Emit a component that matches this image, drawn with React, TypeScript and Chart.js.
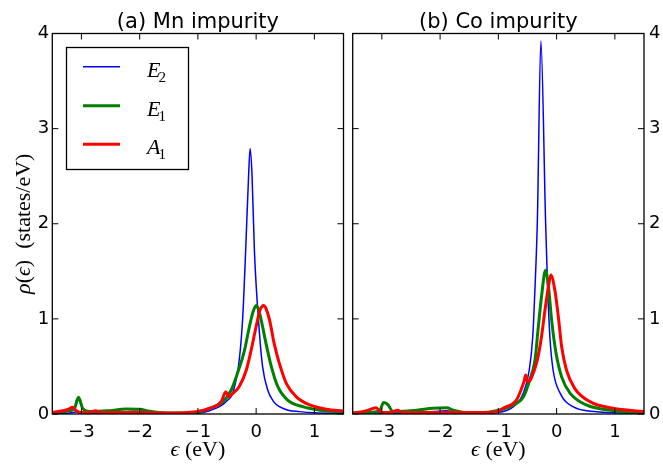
import React, { useEffect, useRef } from 'react';
import { Chart, registerables } from 'chart.js';

Chart.register(...registerables);

// ---------- data ----------
const xTickValues = [-3, -2, -1, 0, 1];
const yTickValues = [0, 1, 2, 3, 4];

const legendLabels = [
  ['E', '2'],
  ['E', '1'],
  ['A', '1'],
];

// (a) Mn impurity
const mnE2X = [-3.5, -3.2, -3.1, -3.0, -2.6, -2.3, -2.1, -1.9, -1.6, -1.2, -0.97, -0.8, -0.63, -0.5, -0.4, -0.29, -0.23, -0.18, -0.13, -0.103, -0.07, -0.03, 0.057, 0.11, 0.2, 0.3, 0.4, 0.55, 0.74, 1.0, 1.5];
const mnE2Y = [0.005, 0.01, 0.02, 0.01, 0.01, 0.02, 0.03, 0.02, 0.005, 0.005, 0.01, 0.035, 0.077, 0.14, 0.22, 0.57, 1.02, 1.72, 2.5, 2.79, 2.5, 1.72, 0.85, 0.5, 0.25, 0.13, 0.077, 0.04, 0.025, 0.012, 0.005];

const mnE1X = [-3.5, -3.3, -3.2, -3.12, -3.05, -2.98, -2.9, -2.8, -2.52, -2.23, -2.0, -1.83, -1.55, -1.3, -1.03, -0.8, -0.57, -0.43, -0.32, -0.2, -0.115, -0.05, 0.0, 0.04, 0.086, 0.17, 0.26, 0.37, 0.54, 0.8, 1.1, 1.5];
const mnE1Y = [0.015, 0.025, 0.035, 0.06, 0.175, 0.06, 0.03, 0.025, 0.035, 0.053, 0.05, 0.028, 0.01, 0.01, 0.015, 0.06, 0.13, 0.25, 0.43, 0.67, 0.92, 1.08, 1.14, 1.1, 0.99, 0.74, 0.5, 0.29, 0.147, 0.077, 0.04, 0.022];

const mnA1X = [-3.5, -3.32, -3.22, -3.15, -3.08, -3.0, -2.85, -2.76, -2.68, -2.5, -2.0, -1.5, -1.03, -0.8, -0.6, -0.52, -0.47, -0.43, -0.29, -0.17, -0.086, 0.0, 0.07, 0.1, 0.13, 0.16, 0.23, 0.31, 0.4, 0.52, 0.69, 0.92, 1.2, 1.5];
const mnA1Y = [0.015, 0.035, 0.05, 0.07, 0.03, 0.015, 0.015, 0.035, 0.015, 0.015, 0.015, 0.01, 0.025, 0.06, 0.13, 0.235, 0.18, 0.2, 0.29, 0.46, 0.67, 0.92, 1.1, 1.13, 1.14, 1.12, 0.99, 0.74, 0.53, 0.32, 0.18, 0.095, 0.05, 0.03];

// (b) Co impurity
const coE2X = [-3.5, -3.1, -2.9, -2.5, -2.1, -1.9, -1.7, -1.4, -1.03, -0.74, -0.57, -0.47, -0.41, -0.37, -0.33, -0.27, -0.19, -0.155, -0.115, -0.06, 0.06, 0.28, 0.69, 1.0, 1.5];
const coE2Y = [0.005, 0.01, 0.005, 0.01, 0.025, 0.035, 0.015, 0.005, 0.014, 0.077, 0.22, 0.46, 0.81, 1.34, 2.04, 3.92, 2.04, 1.34, 0.81, 0.46, 0.22, 0.077, 0.024, 0.012, 0.005];

const coE1X = [-3.5, -3.3, -3.09, -3.03, -2.97, -2.89, -2.83, -2.75, -2.4, -2.12, -1.89, -1.77, -1.54, -1.32, -1.03, -0.74, -0.57, -0.46, -0.37, -0.32, -0.26, -0.19, -0.14, -0.086, -0.01, 0.086, 0.23, 0.51, 0.97, 1.5];
const coE1Y = [0.01, 0.015, 0.025, 0.04, 0.12, 0.095, 0.035, 0.025, 0.04, 0.06, 0.066, 0.04, 0.015, 0.014, 0.035, 0.095, 0.18, 0.36, 0.57, 0.88, 1.23, 1.51, 1.34, 0.99, 0.64, 0.39, 0.22, 0.095, 0.035, 0.015];

const coA1X = [-3.5, -3.43, -3.26, -3.1, -3.0, -2.85, -2.73, -2.64, -2.3, -1.8, -1.32, -1.03, -0.92, -0.69, -0.6, -0.56, -0.53, -0.5, -0.46, -0.4, -0.33, -0.26, -0.2, -0.14, -0.1, -0.03, 0.03, 0.086, 0.17, 0.31, 0.57, 0.97, 1.5];
const coA1Y = [0.01, 0.015, 0.035, 0.066, 0.015, 0.015, 0.04, 0.015, 0.015, 0.015, 0.015, 0.025, 0.06, 0.147, 0.27, 0.34, 0.41, 0.34, 0.35, 0.43, 0.57, 0.81, 1.09, 1.34, 1.46, 1.3, 1.02, 0.71, 0.46, 0.27, 0.13, 0.06, 0.025];

// ---------- styling ----------
const BLUE = '#0000ff';
const GREEN = '#008000';
const RED = '#ff0000';
const TICK_FONT = { family: '"DejaVu Sans"', size: 18 };
const SERIF = '"Liberation Serif", "DejaVu Serif", serif';

const fmt = (v: number) => (v < 0 ? '\u2212' + Math.abs(v) : String(v));

function drawParts(ctx: CanvasRenderingContext2D, parts: { t: string; f: string; dy?: number }[], cx: number, baseY: number) {
  let total = 0;
  for (const p of parts) {
    ctx.font = p.f;
    total += ctx.measureText(p.t).width;
  }
  let x = cx - total / 2;
  ctx.textAlign = 'left';
  ctx.textBaseline = 'alphabetic';
  for (const p of parts) {
    ctx.font = p.f;
    ctx.fillText(p.t, x, baseY + (p.dy || 0));
    x += ctx.measureText(p.t).width;
  }
}

const framePlugin = {
  id: 'frame',
  afterDraw(chart: any, _args: any, o: any) {
    const ctx: CanvasRenderingContext2D = chart.ctx;
    const { left, right, top, bottom } = chart.chartArea;
    const xs = chart.scales.x;
    const ys = chart.scales.y;
    ctx.save();
    ctx.strokeStyle = '#000';
    ctx.fillStyle = '#000';
    // ticks (inward, all four sides)
    ctx.lineWidth = 1;
    const TL = 6;
    ctx.beginPath();
    for (const v of xTickValues) {
      const px = xs.getPixelForValue(v);
      ctx.moveTo(px, bottom);
      ctx.lineTo(px, bottom - TL);
      ctx.moveTo(px, top);
      ctx.lineTo(px, top + TL);
    }
    for (const v of yTickValues) {
      const py = ys.getPixelForValue(v);
      ctx.moveTo(left, py);
      ctx.lineTo(left + TL, py);
      ctx.moveTo(right, py);
      ctx.lineTo(right - TL, py);
    }
    ctx.stroke();
    // spines
    ctx.lineWidth = 1.3;
    ctx.strokeRect(left, top, right - left, bottom - top);

    const cx = (left + right) / 2;
    // title
    ctx.font = '21px "DejaVu Sans"';
    ctx.textAlign = 'center';
    ctx.textBaseline = 'alphabetic';
    ctx.fillText(o.title, cx, 28);

    // x label
    drawParts(
      ctx,
      [
        { t: '\u03f5', f: `italic 22px ${SERIF}` },
        { t: ' (eV)', f: `22px ${SERIF}` },
      ],
      cx,
      456
    );

    if (o.showYLabel) {
      ctx.save();
      ctx.translate(30, (top + bottom) / 2);
      ctx.rotate(-Math.PI / 2);
      drawParts(
        ctx,
        [
          { t: '\u03c1', f: `italic 22px ${SERIF}` },
          { t: '(', f: `22px ${SERIF}` },
          { t: '\u03f5', f: `italic 22px ${SERIF}` },
          { t: ')  (states/eV)', f: `22px ${SERIF}` },
        ],
        0,
        0
      );
      ctx.restore();
    }

    if (o.showLegend) {
      ctx.lineWidth = 1.3;
      ctx.strokeRect(66.5, 47.5, 122, 122);
      const rows = [66.7, 105.7, 144.3];
      const colors = [BLUE, GREEN, RED];
      const widths = [1.5, 3, 3];
      rows.forEach((ry, i) => {
        ctx.beginPath();
        ctx.strokeStyle = colors[i];
        ctx.lineWidth = widths[i];
        ctx.moveTo(83, ry);
        ctx.lineTo(120, ry);
        ctx.stroke();
        ctx.fillStyle = '#000';
        ctx.textAlign = 'left';
        ctx.textBaseline = 'alphabetic';
        ctx.font = `italic 22px ${SERIF}`;
        const [main, sub] = legendLabels[i];
        ctx.fillText(main, 147, ry + 10);
        const w = ctx.measureText(main).width;
        ctx.font = `15px ${SERIF}`;
        ctx.fillText(sub, 147 + w - 2, ry + 15);
      });
    }
    ctx.restore();
  },
};

type Series = { x: number[]; y: number[]; color: string; width: number; order: number };

function makeChart(canvas: HTMLCanvasElement, p: any) {
  const series: Series[] = p.series;
  return new Chart(canvas, {
    type: 'line',
    data: {
      datasets: series.map((s) => ({
        data: s.x.map((x, i) => ({ x, y: s.y[i] })),
        borderColor: s.color,
        borderWidth: s.width,
        pointRadius: 0,
        fill: false,
        order: s.order,
        cubicInterpolationMode: 'monotone',
        borderJoinStyle: 'round',
      })),
    },
    options: {
      responsive: false,
      animation: false,
      events: [],
      layout: { padding: p.padding },
      plugins: {
        legend: { display: false },
        tooltip: { enabled: false },
        frame: { title: p.title, showYLabel: p.showYLabel, showLegend: p.showLegend },
      },
      scales: {
        x: {
          type: 'linear',
          min: -3.5,
          max: 1.5,
          afterBuildTicks: (s: any) => {
            s.ticks = xTickValues.map((v) => ({ value: v }));
          },
          afterFit: (s: any) => {
            s.height = 56;
          },
          grid: { display: false, drawTicks: false, tickLength: 0 },
          border: { display: false },
          ticks: { font: TICK_FONT, color: '#000', padding: 8, callback: (v: any) => fmt(Number(v)), maxRotation: 0, autoSkip: false },
        },
        y: {
          type: 'linear',
          position: p.yPosition,
          min: 0,
          max: 4,
          afterBuildTicks: (s: any) => {
            s.ticks = yTickValues.map((v) => ({ value: v }));
          },
          afterFit: (s: any) => {
            s.width = p.yWidth;
          },
          grid: { display: false, drawTicks: false, tickLength: 0 },
          border: { display: false },
          ticks: { font: TICK_FONT, color: '#000', padding: p.yPad, callback: (v: any) => fmt(Number(v)), autoSkip: false },
        },
      },
    } as any,
    plugins: [framePlugin as any],
  });
}

export default function App() {
  const leftRef = useRef<HTMLCanvasElement>(null);
  const rightRef = useRef<HTMLCanvasElement>(null);

  useEffect(() => {
    const a = makeChart(leftRef.current!, {
      title: '(a) Mn impurity',
      showYLabel: true,
      showLegend: true,
      yPosition: 'left',
      yWidth: 52.3,
      yPad: 3,
      padding: { left: 0, top: 33.5, right: 4.5, bottom: 0 },
      series: [
        { x: mnE2X, y: mnE2Y, color: BLUE, width: 1.5, order: 2 },
        { x: mnE1X, y: mnE1Y, color: GREEN, width: 3, order: 1 },
        { x: mnA1X, y: mnA1Y, color: RED, width: 3, order: 0 },
      ],
    });
    const b = makeChart(rightRef.current!, {
      title: '(b) Co impurity',
      showYLabel: false,
      showLegend: false,
      yPosition: 'right',
      yWidth: 19,
      yPad: 5,
      padding: { left: 4.7, top: 33.5, right: 0, bottom: 0 },
      series: [
        { x: coE2X, y: coE2Y, color: BLUE, width: 1.5, order: 2 },
        { x: coE1X, y: coE1Y, color: GREEN, width: 3, order: 1 },
        { x: coA1X, y: coA1Y, color: RED, width: 3, order: 0 },
      ],
    });
    return () => {
      a.destroy();
      b.destroy();
    };
  }, []);

  return (
    <div style={{ position: 'absolute', left: 0, top: 0, width: 663, height: 470, background: '#fff' }}>
      <canvas ref={leftRef} width={348} height={470} style={{ position: 'absolute', left: 0, top: 0, width: 348, height: 470 }} />
      <canvas ref={rightRef} width={315} height={470} style={{ position: 'absolute', left: 348, top: 0, width: 315, height: 470 }} />
    </div>
  );
}
